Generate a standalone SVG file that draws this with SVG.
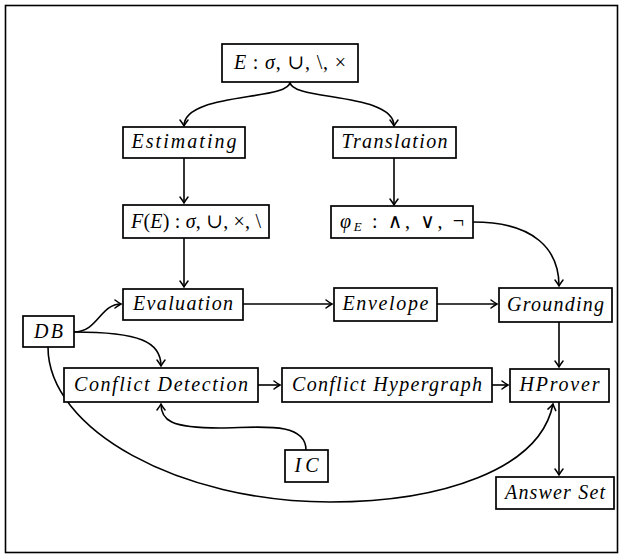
<svg xmlns="http://www.w3.org/2000/svg" width="623" height="556" viewBox="0 0 623 556">
<style>
.box{fill:#fff;stroke:#000;stroke-width:1.7}
.t{font-family:"Liberation Serif","DejaVu Serif",serif;font-size:20px;font-style:italic;fill:#000}
.u{font-style:normal}
.c{fill:none;stroke:#000;stroke-width:1.6}
.frame{fill:#fff;stroke:#000;stroke-width:1.6}
</style>
<defs>
<marker id="ar" viewBox="-7 -5 9 10" markerWidth="9" markerHeight="10" refX="0" refY="0" orient="auto" markerUnits="userSpaceOnUse">
<path d="M-6,-4 Q-2,-1 0,0 Q-2,1 -6,4" fill="none" stroke="#000" stroke-width="1.5" stroke-linecap="round"/>
</marker>
</defs>
<rect class="frame" x="5.5" y="5.5" width="612" height="547"/>
<g id="connectors">
<path class="c" d="M290,82 C290,101 184,92 184,126" marker-end="url(#ar)"/>
<path class="c" d="M290,82 C290,101 394,92 394,126" marker-end="url(#ar)"/>
<path class="c" d="M184,158 L184,203" marker-end="url(#ar)"/>
<path class="c" d="M394,158 L394,205" marker-end="url(#ar)"/>
<path class="c" d="M184,238 L184,287" marker-end="url(#ar)"/>
<path class="c" d="M473,222 C535,222 559,250 559,286" marker-end="url(#ar)"/>
<path class="c" d="M243,304 L332,304" marker-end="url(#ar)"/>
<path class="c" d="M437,304 L497,304" marker-end="url(#ar)"/>
<path class="c" d="M559,322 L559,367" marker-end="url(#ar)"/>
<path class="c" d="M74,332 C98,332 100,304 121,304" marker-end="url(#ar)"/>
<path class="c" d="M74,332 C140,332 161,342 161,366" marker-end="url(#ar)"/>
<path class="c" d="M48,347 C48,430 180,502 330,502 C440,502 540,470 553,404" marker-end="url(#ar)"/>
<path class="c" d="M306,450 C306,420 255,428 220,428 C170,428 161,420 161,404" marker-end="url(#ar)"/>
<path class="c" d="M258,385 L280,385" marker-end="url(#ar)"/>
<path class="c" d="M492,385 L508,385" marker-end="url(#ar)"/>
<path class="c" d="M559,402 L559,475" marker-end="url(#ar)"/>
</g>
<g id="E">
<rect class="box" x="222" y="44" width="136" height="38"/>
<text class="t" x="290" y="69" text-anchor="middle" textLength="112" lengthAdjust="spacing">E<tspan class="u"> : </tspan>σ<tspan class="u">, ∪, \, ×</tspan></text>
</g>
<g id="estimating">
<rect class="box" x="123" y="127" width="122" height="31"/>
<text class="t" x="184" y="148" text-anchor="middle" textLength="105" lengthAdjust="spacing">Estimating</text>
</g>
<g id="translation">
<rect class="box" x="333" y="127" width="123" height="31"/>
<text class="t" x="394.5" y="148" text-anchor="middle" textLength="106" lengthAdjust="spacing">Translation</text>
</g>
<g id="FE">
<rect class="box" x="123" y="205" width="146" height="33"/>
<text class="t" x="196" y="228" text-anchor="middle" textLength="130" lengthAdjust="spacing">F<tspan class="u">(</tspan>E<tspan class="u">) : </tspan>σ<tspan class="u">, ∪, ×, \</tspan></text>
</g>
<g id="phiE">
<rect class="box" x="331" y="206" width="142" height="32"/>
<text class="t" x="402" y="228" text-anchor="middle" textLength="124" lengthAdjust="spacing">φ<tspan font-size="13" dy="3">E</tspan><tspan class="u" dy="-3"> : ∧, ∨, ¬</tspan></text>
</g>
<g id="evaluation">
<rect class="box" x="123" y="289" width="120" height="31"/>
<text class="t" x="183" y="310" text-anchor="middle" textLength="100" lengthAdjust="spacing">Evaluation</text>
</g>
<g id="envelope">
<rect class="box" x="334" y="288" width="103" height="33"/>
<text class="t" x="385.5" y="310" text-anchor="middle" textLength="86" lengthAdjust="spacing">Envelope</text>
</g>
<g id="grounding">
<rect class="box" x="499" y="288" width="113" height="34"/>
<text class="t" x="555.5" y="311" text-anchor="middle" textLength="97" lengthAdjust="spacing">Grounding</text>
</g>
<g id="DB">
<rect class="box" x="23" y="316" width="51" height="31"/>
<text class="t" x="48.5" y="338" text-anchor="middle" textLength="29" lengthAdjust="spacing">DB</text>
</g>
<g id="conflictDetection">
<rect class="box" x="64" y="368" width="194" height="34"/>
<text class="t" x="161" y="391" text-anchor="middle" textLength="174" lengthAdjust="spacing">Conflict Detection</text>
</g>
<g id="conflictHypergraph">
<rect class="box" x="282" y="368" width="210" height="34"/>
<text class="t" x="387" y="391" text-anchor="middle" textLength="190" lengthAdjust="spacing">Conflict Hypergraph</text>
</g>
<g id="HProver">
<rect class="box" x="510" y="369" width="99" height="33"/>
<text class="t" x="559.5" y="391" text-anchor="middle" textLength="80" lengthAdjust="spacing">HProver</text>
</g>
<g id="IC">
<rect class="box" x="285" y="450" width="43" height="32"/>
<text class="t" x="306.5" y="472" text-anchor="middle" textLength="24" lengthAdjust="spacing">IC</text>
</g>
<g id="answerSet">
<rect class="box" x="496" y="477" width="118" height="32"/>
<text class="t" x="555" y="499" text-anchor="middle" textLength="100" lengthAdjust="spacing">Answer Set</text>
</g>
</svg>
